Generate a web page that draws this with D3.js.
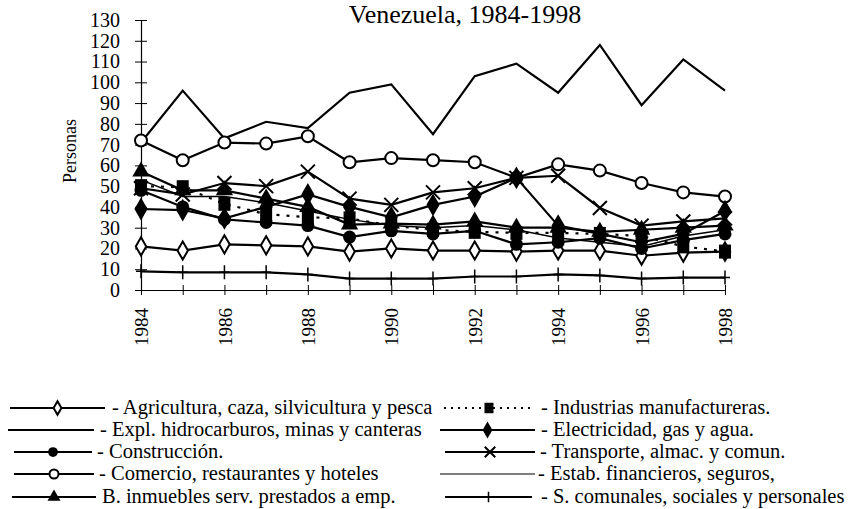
<!DOCTYPE html>
<html>
<head>
<meta charset="utf-8">
<script src="https://cdn.jsdelivr.net/npm/d3@7"></script>
<style>
  body { margin: 0; background: #fff; }
  svg text { font-family: "Liberation Serif", "Times New Roman", serif; fill: #000; }
</style>
</head>
<body>
<script>
// Data
const years = [1984, 1985, 1986, 1987, 1988, 1989, 1990, 1991, 1992, 1993, 1994, 1995, 1996, 1997, 1998];
const yTicks = [0, 10, 20, 30, 40, 50, 60, 70, 80, 90, 100, 110, 120, 130];

const agricultura  = [21, 19, 22, 21.5, 21, 18.5, 20, 19, 19, 18.5, 19, 19, 16.5, 18, 18.5];
const hidrocarb    = [71, 96, 73, 81, 78, 95, 99, 75, 103, 109, 95, 118, 89, 111, 96];
const construccion = [48, 40, 34, 32.5, 31, 25.5, 28.5, 27, 28.5, 22, 23, 25, 20, 24, 27];
const comercio     = [72, 62.5, 71, 70.5, 74, 61.5, 63.5, 62.5, 61.5, 54, 60.5, 57.5, 51.5, 47, 45];
const inmuebles    = [57, 48, 48, 44, 40, 31.5, 32, 31.5, 33, 30, 30, 28, 29, 30, 31];
const industrias   = [50, 49.5, 41.5, 36.5, 35, 34.5, 31, 29, 28, 27.5, 27.5, 27, 26, 21, 18.5];
const electricidad = [39, 38.5, 34.5, 40, 46, 40, 35, 41, 45, 54, 31, 27, 23, 27, 38];
const transporte   = [49, 46, 51.5, 50, 57, 44, 41, 47, 49, 54, 55, 39.5, 31, 33, 34.5];
const financieros  = [53, 45, 45, 42, 38, 34, 31, 30, 31, 29, 25, 23, 21, 26, 29];
const comunales    = [9, 8.5, 8.5, 8.5, 7.5, 5.5, 5.5, 5.5, 6.5, 6.5, 7.5, 7, 5.5, 6, 6];

const sets = [
  { title: "- Agricultura, caza, silvicultura y pesca", data: agricultura, marker: "diamondOpen" },
  { title: "- Expl. hidrocarburos, minas y canteras", data: hidrocarb, marker: "none" },
  { title: "- Construcción.", data: construccion, marker: "circleFilled" },
  { title: "- Comercio, restaurantes y hoteles", data: comercio, marker: "circleOpen" },
  { title: "B. inmuebles serv. prestados a emp.", data: inmuebles, marker: "triangle" },
  { title: "- Industrias manufactureras.", data: industrias, marker: "square", dash: "3,7" },
  { title: "- Electricidad, gas y agua.", data: electricidad, marker: "diamondFilled" },
  { title: "- Transporte, almac. y comun.", data: transporte, marker: "x" },
  { title: "- Estab. financieros, seguros,", data: financieros, marker: "none", thin: true },
  { title: "- S. comunales, sociales y personales", data: comunales, marker: "plus" }
];

const W = 850, H = 509;

const xScale = d3.scaleLinear().domain([1984, 1998]).range([141, 725]);
const yScale = d3.scaleLinear().domain([0, 130]).range([290, 20]);

const svg = d3.select("body").append("svg")
    .attr("width", W)
    .attr("height", H);

// title
svg.append("text")
    .attr("x", 465)
    .attr("y", 23)
    .attr("text-anchor", "middle")
    .attr("font-size", "26px")
    .text("Venezuela, 1984-1998");

// y axis title
svg.append("text")
    .attr("transform", "translate(76,151) rotate(-90)")
    .attr("text-anchor", "middle")
    .attr("font-size", "18px")
    .text("Personas");

// y axis with crossing ticks
const yAxis = svg.append("g")
    .attr("transform", "translate(" + xScale(1984) + ",0)")
    .call(d3.axisLeft(yScale).tickValues(yTicks).tickSizeInner(6).tickSizeOuter(0).tickPadding(15));
yAxis.selectAll(".tick line").attr("x1", 6);
yAxis.selectAll(".tick text").attr("font-size", "20px").attr("font-family", null);
yAxis.select(".domain").attr("stroke-width", 1.2);

// x axis with crossing ticks, labels on even years
const xAxis = svg.append("g")
    .attr("transform", "translate(0," + yScale(0) + ")")
    .call(d3.axisBottom(xScale).tickValues(years).tickFormat(d => d % 2 === 0 ? d : "")
        .tickSizeInner(5).tickSizeOuter(0));
xAxis.selectAll(".tick line").attr("y1", -5);
xAxis.selectAll(".tick text")
    .attr("font-size", "19px")
    .attr("font-family", null)
    .attr("transform", "rotate(-90)")
    .attr("text-anchor", "end")
    .attr("x", -18)
    .attr("y", 0)
    .attr("dy", "0.35em");
xAxis.select(".domain").attr("stroke-width", 1.2);

// marker drawing (k scales the marker, smaller in the legend)
const drawMarker = (g, type, cx, cy, k = 1) => {
  if (type === "diamondOpen") {
    g.append("path").attr("d", d3.symbol(d3.symbolDiamond, 95 * k * k)())
      .attr("transform", `translate(${cx},${cy})`)
      .attr("fill", "#fff").attr("stroke", "#000").attr("stroke-width", 2);
  } else if (type === "diamondFilled") {
    g.append("path").attr("d", d3.symbol(d3.symbolDiamond, 150 * k * k)())
      .attr("transform", `translate(${cx},${cy})`).attr("fill", "#000");
  } else if (type === "circleFilled") {
    g.append("circle").attr("cx", cx).attr("cy", cy).attr("r", 6.5 * k).attr("fill", "#000");
  } else if (type === "circleOpen") {
    g.append("circle").attr("cx", cx).attr("cy", cy).attr("r", 6 * k)
      .attr("fill", "#fff").attr("stroke", "#000").attr("stroke-width", 2);
  } else if (type === "triangle") {
    g.append("path").attr("d", d3.symbol(d3.symbolTriangle, 130 * k * k)())
      .attr("transform", `translate(${cx},${cy})`).attr("fill", "#000");
  } else if (type === "square") {
    g.append("rect").attr("x", cx - 6 * k).attr("y", cy - 7 * k)
      .attr("width", 12 * k).attr("height", 14 * k).attr("fill", "#000");
  } else if (type === "x") {
    const s = 7 * k;
    g.append("path").attr("d", `M${cx-s},${cy-s}L${cx+s},${cy+s}M${cx-s},${cy+s}L${cx+s},${cy-s}`)
      .attr("stroke", "#000").attr("stroke-width", 2);
  } else if (type === "plus") {
    const s = 7 * k;
    g.append("path").attr("d", `M${cx},${cy-s}L${cx},${cy+s}M${cx-5*k},${cy}L${cx+5*k},${cy}`)
      .attr("stroke", "#000").attr("stroke-width", 1.5);
  }
};

// series
const line = d3.line()
    .x((d, i) => xScale(years[i]))
    .y(d => yScale(d));

sets.forEach(set => {
  const g = svg.append("g");
  g.append("path")
      .datum(set.data)
      .attr("fill", "none")
      .attr("stroke", "#000")
      .attr("stroke-width", set.thin ? 1.5 : 2.2)
      .attr("stroke-dasharray", set.dash || null)
      .attr("d", line);
  set.data.forEach((v, i) => drawMarker(g, set.marker, xScale(years[i]), yScale(v)));
});

// legend
const legendLayout = [
  { x0: 10, x1: 105, tx: 112, y: 408 },
  { x0: 8, x1: 94, tx: 100, y: 430 },
  { x0: 14, x1: 92, tx: 97, y: 452 },
  { x0: 14, x1: 94, tx: 99, y: 474 },
  { x0: 12, x1: 96, tx: 102, y: 497 },
  { x0: 444, x1: 534, tx: 541, y: 408 },
  { x0: 440, x1: 535, tx: 541, y: 430 },
  { x0: 445, x1: 535, tx: 540, y: 452 },
  { x0: 440, x1: 535, tx: 538, y: 474 },
  { x0: 445, x1: 532, tx: 541, y: 497 }
];

const addLegends = () => {
  sets.forEach((set, i) => {
    const L = legendLayout[i];
    const g = svg.append("g");
    g.append("line")
        .attr("x1", L.x0).attr("x2", L.x1)
        .attr("y1", L.y).attr("y2", L.y)
        .attr("stroke", "#000")
        .attr("stroke-width", set.thin ? 1.2 : 2)
        .attr("stroke-dasharray", set.dash ? "2,5" : null);
    drawMarker(g, set.marker, (L.x0 + L.x1) / 2, L.y, 0.75);
    g.append("text")
        .attr("x", L.tx)
        .attr("y", L.y + 6)
        .attr("font-size", "20.5px")
        .text(set.title);
  });
};
addLegends();
</script>
</body>
</html>
